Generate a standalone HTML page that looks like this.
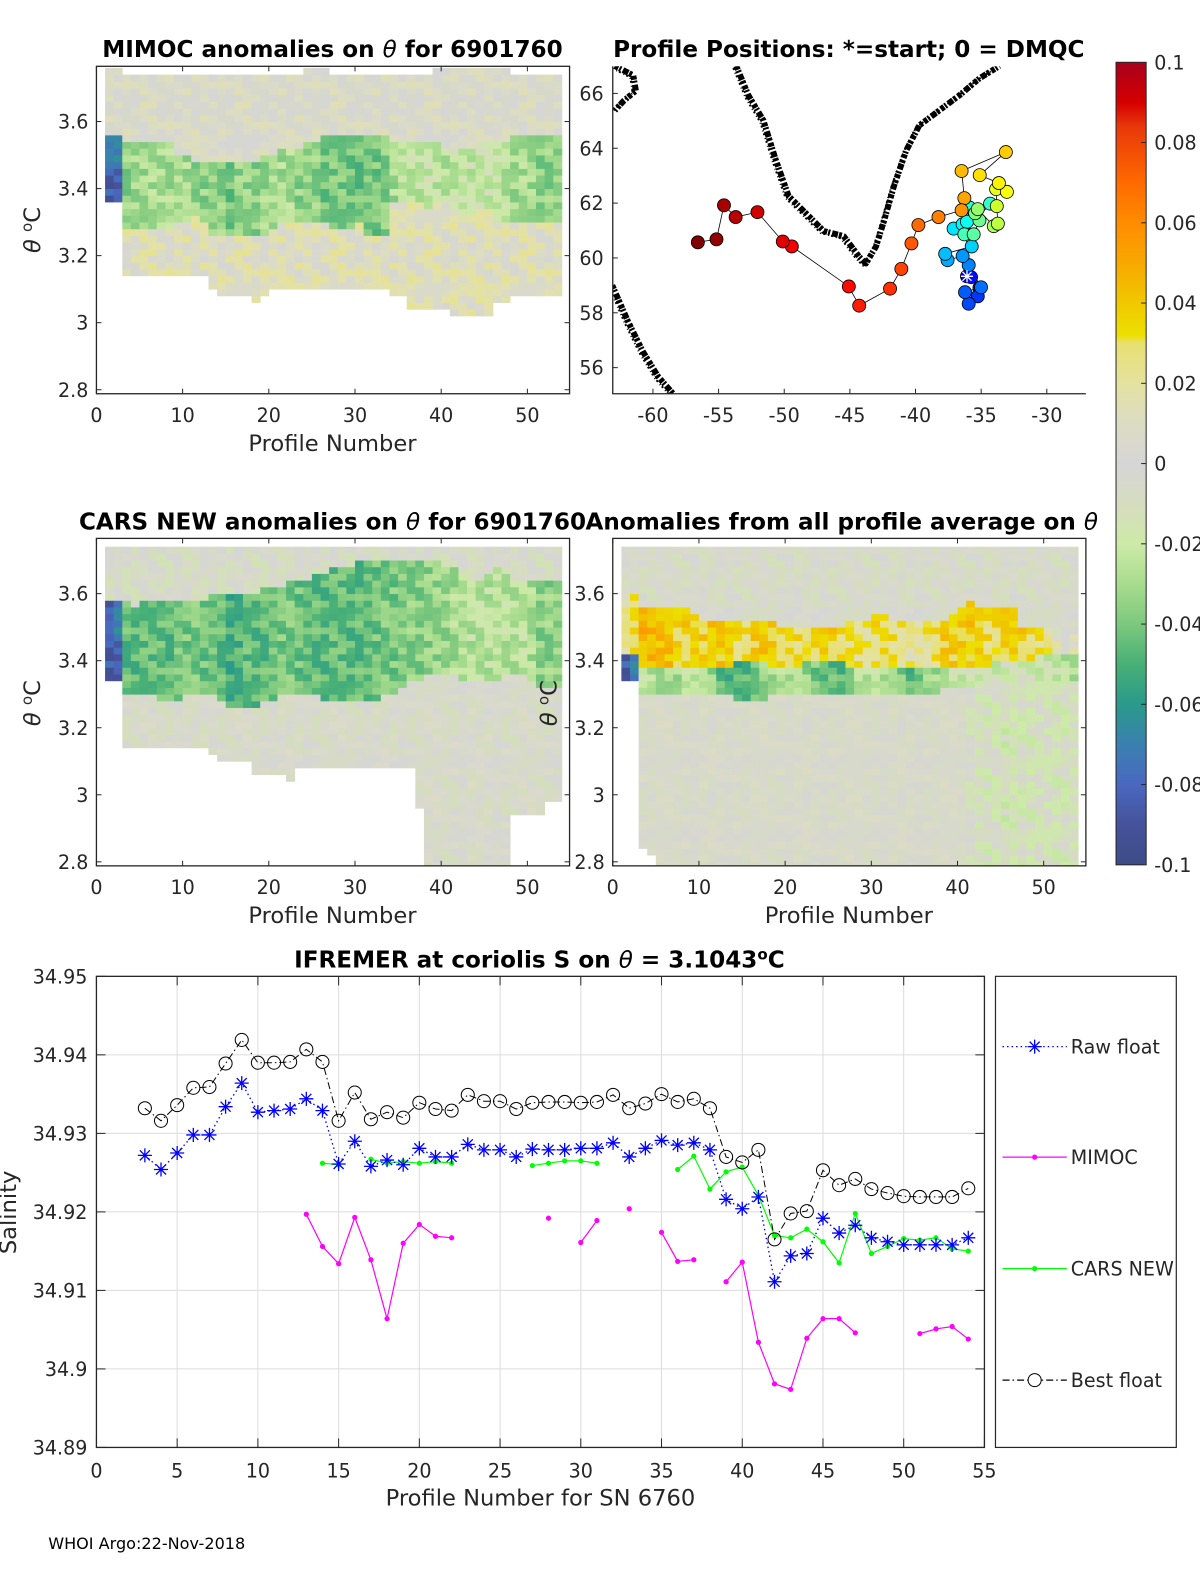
<!DOCTYPE html>
<html><head><meta charset="utf-8"><title>Argo float 6901760 anomaly plots</title>
<style>
html,body{margin:0;padding:0;background:#fff;overflow:hidden;width:1200px;height:1575px;}
svg{display:block;font-family:"DejaVu Sans","Liberation Sans",sans-serif;}
.t{font-size:19px;fill:#262626;}
.ttl{font-size:23px;font-weight:bold;fill:#000;}
.lab{font-size:22.5px;fill:#262626;}
</style></head>
<body>
<svg id="fig" width="1200" height="1575" viewBox="0 0 1194.6 1568" preserveAspectRatio="none" xmlns="http://www.w3.org/2000/svg">
<defs>
<clipPath id="c1"><rect x="96" y="66" width="471" height="326"/></clipPath>
<clipPath id="c3"><rect x="96" y="537" width="471" height="325"/></clipPath>
<clipPath id="c4"><rect x="610" y="537" width="471" height="325"/></clipPath>
<clipPath id="cm"><rect x="610" y="66" width="471" height="326"/></clipPath>
<clipPath id="cb"><rect x="96" y="972" width="884" height="469"/></clipPath>
<linearGradient id="cbar" x1="0" y1="0" x2="0" y2="1">
<stop offset="0" stop-color="#a8001e"/><stop offset="0.05" stop-color="#d40000"/><stop offset="0.08" stop-color="#e8380a"/>
<stop offset="0.15" stop-color="#ff6a00"/><stop offset="0.2" stop-color="#ff8c00"/><stop offset="0.25" stop-color="#f7a800"/>
<stop offset="0.3" stop-color="#f0c800"/><stop offset="0.34" stop-color="#ecdf00"/><stop offset="0.35" stop-color="#e8e070"/>
<stop offset="0.4" stop-color="#e4e2a0"/><stop offset="0.45" stop-color="#dcdcc4"/><stop offset="0.5" stop-color="#d6d6d6"/>
<stop offset="0.55" stop-color="#d6dcc0"/><stop offset="0.6" stop-color="#cdeaa8"/><stop offset="0.65" stop-color="#a8dc8e"/>
<stop offset="0.7" stop-color="#7cc87e"/><stop offset="0.75" stop-color="#48b077"/><stop offset="0.8" stop-color="#2a9a8a"/>
<stop offset="0.85" stop-color="#3a80b0"/><stop offset="0.9" stop-color="#4a68c0"/><stop offset="0.95" stop-color="#46529a"/>
<stop offset="1" stop-color="#3e4c88"/>
</linearGradient>
</defs>

<text class="ttl" x="331" y="57" text-anchor="middle">MIMOC anomalies on <tspan font-style="italic" font-weight="normal">θ</tspan>  for 6901760</text>
<text class="ttl" x="845" y="57" text-anchor="middle">Profile Positions: *=start; 0 = DMQC</text>
<text class="ttl" x="331" y="527" text-anchor="middle">CARS NEW anomalies on <tspan font-style="italic" font-weight="normal">θ</tspan> for 6901760</text>
<text class="ttl" x="838" y="527" text-anchor="middle">Anomalies from all profile average on <tspan font-style="italic" font-weight="normal">θ</tspan></text>
<text class="ttl" x="537" y="963" text-anchor="middle">IFREMER at coriolis S on <tspan font-style="italic" font-weight="normal">θ</tspan> = 3.1043<tspan dy="-8" font-size="15">o</tspan><tspan dy="8">C</tspan></text>

<g id="p1" clip-path="url(#c1)"></g>
<g id="p3" clip-path="url(#c3)"></g>
<g id="p4" clip-path="url(#c4)"></g>
<g id="map" clip-path="url(#cm)"></g>
<g id="axes"></g>

<rect x="1111" y="62" width="30" height="799" fill="url(#cbar)" stroke="#262626" stroke-width="1"/>
<g id="cbt"></g>

<rect x="96" y="972" width="884" height="469" fill="#fff"/>
<g id="grid"></g>
<g id="series" clip-path="url(#cb)"></g>
<rect x="96" y="972" width="884" height="469" fill="none" stroke="#262626" stroke-width="1.3"/>
<g id="baxes"></g>
<text class="lab" transform="translate(16,1207) rotate(-90)" text-anchor="middle">Salinity</text>
<text class="lab" x="538" y="1499" text-anchor="middle">Profile Number for SN 6760</text>

<g>
<rect x="991" y="972" width="180" height="469" fill="#fff" stroke="#262626" stroke-width="1.2"/>
<g id="leg"></g>
</g>
<text x="48" y="1542" font-size="16" fill="#000">WHOI Argo:22-Nov-2018</text>
</svg>

<script>
// ===== bottom chart data =====
const profiles = [];
for (let i = 1; i <= 54; i++) profiles.push(i);
const rawFloat = [null,null,34.9272,34.9254,34.9275,34.9298,34.9298,34.9334,34.9364,34.9327,34.9329,34.9331,34.9344,34.9329,34.9261,34.9290,34.9258,34.9266,34.9260,34.9281,34.9270,34.9270,34.9286,34.9279,34.9279,34.9270,34.9280,34.9279,34.9279,34.9281,34.9281,34.9288,34.9270,34.9281,34.9291,34.9285,34.9288,34.9279,34.9216,34.9204,34.9219,34.9111,34.9144,34.9147,34.9192,34.9173,34.9183,34.9167,34.9162,34.9158,34.9158,34.9158,34.9158,34.9167];
const bestFloat = [null,null,34.9332,34.9316,34.9336,34.9358,34.9359,34.9389,34.9419,34.9390,34.9390,34.9391,34.9407,34.9391,34.9316,34.9352,34.9318,34.9327,34.9320,34.9339,34.9331,34.9329,34.9349,34.9341,34.9341,34.9331,34.9339,34.9340,34.9340,34.9339,34.9340,34.9349,34.9332,34.9338,34.9350,34.9340,34.9344,34.9332,34.9270,34.9263,34.9279,34.9165,34.9198,34.9201,34.9253,34.9234,34.9242,34.9229,34.9224,34.9220,34.9219,34.9219,34.9219,34.9230];
const carsNew = [null,null,null,null,null,null,null,null,null,null,null,null,null,34.9262,34.9260,null,34.9267,34.9262,34.9264,34.9262,34.9264,34.9262,null,null,null,null,34.9259,34.9262,34.9265,34.9265,34.9262,null,null,null,null,34.9254,34.9271,34.9229,34.9251,34.9257,34.9221,34.9170,34.9167,34.9178,34.9162,34.9135,34.9198,34.9147,34.9156,34.9166,34.9164,34.9167,34.9153,34.9150];
const mimoc = [null,null,null,null,null,null,null,null,null,null,null,null,34.9197,34.9156,34.9134,34.9193,34.9139,34.9064,34.9160,34.9184,34.9169,34.9167,null,null,null,null,null,34.9192,null,34.9161,34.9189,null,34.9204,null,34.9174,34.9137,34.9139,null,34.9111,34.9136,34.9034,34.8981,34.8974,34.9039,34.9064,34.9064,34.9046,null,null,null,34.9045,34.9051,34.9054,34.9038];
const xTicksB = [0,5,10,15,20,25,30,35,40,45,50,55];
const yTicksB = [34.89,34.9,34.91,34.92,34.93,34.94,34.95];

// ===== heatmap data (per column k=1..53, column spans profile k..k+1) =====
const mimocColTop = [3.765,3.765,3.745,3.745,3.745,3.745,3.745,3.745,3.745,3.745,3.745,3.745,3.745,3.745,3.745,3.745,3.745,3.745,3.745,3.745,3.745,3.745,3.745,3.765,3.765,3.765,3.745,3.745,3.745,3.745,3.745,3.745,3.745,3.745,3.745,3.745,3.745,3.745,3.765,3.765,3.765,3.765,3.765,3.765,3.765,3.765,3.765,3.745,3.745,3.745,3.745,3.745,3.745];
const mimocColBot = [3.35,3.35,3.147,3.147,3.147,3.147,3.147,3.147,3.147,3.147,3.147,3.147,3.104,3.084,3.084,3.084,3.084,3.064,3.084,3.104,3.104,3.104,3.104,3.104,3.104,3.104,3.104,3.104,3.104,3.104,3.104,3.104,3.104,3.084,3.084,3.044,3.044,3.044,3.044,3.044,3.024,3.024,3.024,3.024,3.024,3.064,3.064,3.084,3.084,3.084,3.084,3.084,3.084];
const mimocBandTop = [3.55,3.55,3.53,3.53,3.53,3.53,3.53,3.53,3.49,3.49,3.48,3.48,3.48,3.48,3.47,3.47,3.48,3.48,3.49,3.5,3.52,3.52,3.52,3.53,3.54,3.55,3.56,3.56,3.56,3.56,3.56,3.55,3.55,3.54,3.53,3.53,3.53,3.53,3.53,3.52,3.52,3.52,3.52,3.53,3.53,3.53,3.54,3.55,3.56,3.56,3.56,3.56,3.56];
const mimocBandBot = [3.35,3.35,3.27,3.27,3.27,3.28,3.28,3.28,3.3,3.3,3.31,3.29,3.25,3.25,3.25,3.25,3.25,3.25,3.26,3.27,3.29,3.29,3.3,3.3,3.29,3.29,3.28,3.27,3.27,3.29,3.25,3.25,3.25,3.35,3.35,3.36,3.36,3.34,3.35,3.35,3.33,3.32,3.32,3.33,3.33,3.3,3.3,3.29,3.29,3.29,3.3,3.3,3.3];
const mimocBandVal = [-0.075,-0.07,-0.035,-0.03,-0.032,-0.03,-0.028,-0.03,-0.03,-0.03,-0.035,-0.035,-0.035,-0.035,-0.04,-0.035,-0.035,-0.035,-0.032,-0.03,-0.03,-0.03,-0.035,-0.035,-0.035,-0.04,-0.04,-0.04,-0.04,-0.042,-0.04,-0.04,-0.038,-0.03,-0.025,-0.022,-0.022,-0.022,-0.025,-0.025,-0.022,-0.022,-0.022,-0.02,-0.02,-0.022,-0.025,-0.03,-0.03,-0.032,-0.035,-0.035,-0.035];
const mimocAbove = 0.004;
const mimocBelow = 0.012;

const carsColTop = mimocColTop.map(() => 3.745);
const carsColBot = [3.34,3.34,3.14,3.14,3.14,3.14,3.14,3.14,3.14,3.14,3.14,3.14,3.12,3.10,3.10,3.10,3.10,3.06,3.06,3.06,3.06,3.04,3.08,3.08,3.08,3.08,3.08,3.08,3.08,3.08,3.08,3.08,3.08,3.08,3.08,3.08,2.96,2.78,2.78,2.78,2.78,2.78,2.78,2.78,2.78,2.78,2.78,2.93,2.93,2.93,2.93,2.98,2.98];
const carsBandTop = [3.58,3.58,3.57,3.56,3.57,3.58,3.58,3.58,3.58,3.57,3.57,3.58,3.59,3.6,3.6,3.6,3.6,3.6,3.61,3.61,3.62,3.63,3.63,3.64,3.65,3.66,3.67,3.68,3.68,3.69,3.69,3.69,3.7,3.7,3.7,3.7,3.69,3.69,3.69,3.68,3.68,3.66,3.64,3.64,3.66,3.68,3.66,3.64,3.64,3.64,3.64,3.64,3.64];
const carsBandBot = [3.34,3.34,3.3,3.3,3.29,3.29,3.28,3.28,3.27,3.29,3.29,3.3,3.29,3.28,3.26,3.26,3.26,3.26,3.27,3.27,3.29,3.3,3.3,3.3,3.29,3.28,3.28,3.27,3.27,3.27,3.27,3.28,3.29,3.3,3.32,3.33,3.34,3.35,3.36,3.36,3.35,3.34,3.34,3.33,3.33,3.34,3.35,3.36,3.36,3.34,3.32,3.31,3.31];
const carsBandVal = [-0.085,-0.07,-0.045,-0.045,-0.045,-0.045,-0.042,-0.045,-0.04,-0.04,-0.04,-0.042,-0.042,-0.045,-0.05,-0.05,-0.045,-0.045,-0.045,-0.042,-0.04,-0.04,-0.042,-0.045,-0.045,-0.045,-0.045,-0.045,-0.045,-0.045,-0.045,-0.042,-0.04,-0.04,-0.038,-0.036,-0.036,-0.036,-0.035,-0.032,-0.03,-0.028,-0.026,-0.026,-0.025,-0.025,-0.025,-0.025,-0.025,-0.03,-0.035,-0.035,-0.035];
const carsAbove = -0.004;
const carsBelow = -0.002;

const avgColTop = mimocColTop.map(() => 3.745);
const avgColBot = [3.33,3.33,2.84,2.815,2.77,2.77,2.77,2.77,2.77,2.77,2.77,2.77,2.77,2.77,2.77,2.77,2.77,2.77,2.77,2.77,2.77,2.77,2.77,2.77,2.77,2.77,2.77,2.77,2.77,2.77,2.77,2.77,2.77,2.77,2.77,2.77,2.77,2.77,2.77,2.77,2.77,2.77,2.77,2.77,2.77,2.77,2.77,2.77,2.77,2.77,2.77,2.77,2.77];
const avgWarmTop = [3.6,3.6,3.56,3.56,3.55,3.55,3.55,3.55,3.53,3.52,3.52,3.52,3.52,3.52,3.52,3.52,3.52,3.52,3.5,3.5,3.5,3.5,3.5,3.5,3.5,3.5,3.52,3.52,3.52,3.54,3.54,3.52,3.52,3.52,3.52,3.52,3.52,3.52,3.54,3.56,3.58,3.56,3.56,3.56,3.56,3.56,3.5,3.5,3.5,3.5,3.48,3.48,3.48];
const avgWarmBot = [3.42,3.42,3.38,3.38,3.38,3.38,3.38,3.38,3.38,3.38,3.38,3.38,3.38,3.4,3.4,3.4,3.4,3.38,3.38,3.38,3.38,3.4,3.4,3.4,3.4,3.4,3.38,3.38,3.38,3.38,3.38,3.38,3.38,3.38,3.38,3.38,3.38,3.38,3.38,3.38,3.38,3.38,3.38,3.4,3.4,3.4,3.4,3.4,3.42,3.42,3.42,3.42,3.42];
const avgWarmVal = [0.02,0.03,0.045,0.045,0.04,0.04,0.035,0.035,0.035,0.035,0.038,0.038,0.035,0.03,0.03,0.035,0.038,0.038,0.035,0.03,0.03,0.032,0.032,0.035,0.035,0.03,0.025,0.025,0.025,0.03,0.03,0.028,0.025,0.02,0.02,0.025,0.03,0.035,0.035,0.038,0.038,0.035,0.03,0.03,0.035,0.035,0.035,0.03,0.025,0.02,0.015,0.01,0.01];
const avgCoolBot = [3.33,3.33,3.3,3.3,3.3,3.3,3.3,3.3,3.3,3.3,3.3,3.3,3.3,3.28,3.28,3.28,3.28,3.3,3.3,3.3,3.3,3.3,3.3,3.3,3.3,3.3,3.3,3.3,3.3,3.3,3.3,3.3,3.3,3.3,3.3,3.3,3.3,3.32,3.32,3.32,3.32,3.32,3.34,3.34,3.34,3.34,3.34,3.34,3.34,3.34,3.34,3.34,3.34];
const avgCoolVal = [-0.085,-0.07,-0.025,-0.025,-0.03,-0.03,-0.03,-0.025,-0.025,-0.03,-0.035,-0.045,-0.05,-0.05,-0.045,-0.04,-0.035,-0.03,-0.03,-0.03,-0.03,-0.035,-0.04,-0.045,-0.045,-0.045,-0.035,-0.025,-0.025,-0.025,-0.03,-0.035,-0.04,-0.045,-0.04,-0.035,-0.03,-0.025,-0.02,-0.02,-0.02,-0.02,-0.02,-0.02,-0.015,-0.015,-0.015,-0.015,-0.02,-0.02,-0.02,-0.025,-0.03];
const avgBelow = [0,0,0,0,0,0,0,0,0,0,0,0,0,0,0,0,0,0,0,0,0,0,0,0,0,0,0,0,0,0,0,0,0,0,0,0,0,0,0,0,-0.006,-0.012,-0.012,-0.012,-0.014,-0.016,-0.012,-0.012,-0.012,-0.012,-0.012,-0.012,-0.012];

// ===== map data (track order, start first) =====
const trackLon = [-36.08,-35.77,-35.13,-35.26,-35.95,-36.23,-35.01,-35.95,-36.41,-37.56,-37.74,-35.72,-37.10,-36.41,-36.08,-35.90,-34.32,-36.28,-35.57,-35.13,-35.46,-35.26,-34.04,-33.73,-33.81,-33.86,-33.04,-33.65,-35.11,-33.12,-36.49,-36.28,-36.49,-38.25,-39.78,-40.31,-41.08,-41.94,-44.29,-45.08,-49.42,-50.11,-52.04,-53.70,-54.59,-55.16,-56.58];
const trackLat = [59.33,59.30,58.91,58.60,58.33,58.75,58.93,59.74,60.07,59.92,60.15,60.42,61.07,61.23,61.32,61.84,61.98,60.86,60.86,61.37,61.63,61.78,61.16,61.25,61.89,62.51,62.41,62.73,63.02,63.86,63.17,62.18,61.74,61.49,61.20,60.53,59.60,58.88,58.26,58.96,60.42,60.60,61.67,61.49,61.92,60.68,60.57];
const lonTicks = [-60,-55,-50,-45,-40,-35,-30];
const latTicks = [56,58,60,62,64,66];
const greenlandLon = [-53.65,-52.73,-51.58,-50.67,-49.67,-48.14,-46.99,-45.46,-44.31,-43.78,-43.01,-42.40,-41.64,-40.72,-39.72,-38.19,-36.66,-35.13,-33.60];
const greenlandLat = [67.0,65.93,65.01,63.62,62.26,61.53,60.98,60.79,60.05,59.80,60.42,61.35,62.63,63.91,64.83,65.38,65.93,66.55,67.0];
const labradorNLon = [-62.9,-61.5,-61.3,-62.2,-62.9];
const labradorNLat = [67.0,66.66,66.1,65.74,65.38];
const labradorSLon = [-63.1,-62.9,-61.9,-60.77,-59.6,-58.47];
const labradorSLat = [59.0,58.78,57.68,56.59,55.67,55.05];

// ===== helpers =====
const NS = 'http://www.w3.org/2000/svg';
function mk(tag, attrs, parent) {
  const e = document.createElementNS(NS, tag);
  for (const k in attrs) e.setAttribute(k, attrs[k]);
  parent.appendChild(e);
  return e;
}
const cmStops = [[-0.1,[62,76,136]],[-0.09,[70,82,154]],[-0.08,[74,104,192]],[-0.07,[58,128,176]],[-0.06,[42,154,138]],[-0.05,[72,176,119]],[-0.04,[124,200,126]],[-0.03,[168,220,142]],[-0.02,[205,234,168]],[-0.01,[214,220,192]],[0,[214,214,214]],[0.01,[220,220,196]],[0.02,[228,226,160]],[0.028,[232,224,112]],[0.03,[236,223,0]],[0.04,[240,200,0]],[0.05,[247,168,0]],[0.06,[255,140,0]],[0.07,[255,106,0]],[0.085,[232,56,10]],[0.09,[212,0,0]],[0.1,[168,0,30]]];
function cmap(v) {
  v = Math.max(-0.1, Math.min(0.1, v));
  for (let i = 0; i < cmStops.length - 1; i++) {
    const a = cmStops[i], b = cmStops[i+1];
    if (v >= a[0] && v <= b[0]) {
      const t = (v - a[0]) / (b[0] - a[0]);
      const c = a[1].map((x, j) => Math.round(x + (b[1][j] - x) * t));
      return 'rgb(' + c.join(',') + ')';
    }
  }
  return '#d6d6d6';
}
const texture = [0, -0.01, 0.008, -0.004, 0.012, -0.008, 0.005, -0.012, 0.003, 0.009, -0.006];

function heat(gid, x0, y36, colTop, colBot, valueAt) {
  const g = document.getElementById(gid);
  const dx = 8.58, dy = 0.02 * 333.75;
  for (let k = 1; k <= 53; k++) {
    const i = k - 1;
    for (let r = 0; r < 60; r++) {
      const th = 2.76 + r * 0.02;
      const mid = th + 0.01;
      if (mid > colTop[i] || mid < colBot[i]) continue;
      const v = valueAt(i, mid) + texture[(r * r * 3 + k * k * 5 + r * k) % 11] * 0.8;
      const rc = mk('rect', {x: (x0 + k * dx).toFixed(2), y: (y36 + (3.6 - th - 0.02) * 333.75).toFixed(2), width: (dx + 0.4).toFixed(2), height: (dy + 0.4).toFixed(2), fill: cmap(v)}, g);
      
      
    }
  }
}
heat('p1', 96, 121, mimocColTop, mimocColBot, (i, th) => {
  if (th <= mimocBandTop[i] && th >= mimocBandBot[i]) return (i < 2 && th < 3.45) ? -0.085 : mimocBandVal[i];
  return th > mimocBandTop[i] ? mimocAbove : mimocBelow;
});
heat('p3', 96, 591, carsColTop, carsColBot, (i, th) => {
  if (th <= carsBandTop[i] && th >= carsBandBot[i]) return (i < 2 && th < 3.45) ? -0.085 : carsBandVal[i];
  return th > carsBandTop[i] ? carsAbove : carsBelow;
});
heat('p4', 610, 591, avgColTop, avgColBot, (i, th) => {
  if (th <= avgWarmTop[i] && th >= avgWarmBot[i]) return avgWarmVal[i];
  if (th < avgWarmBot[i] && th >= avgCoolBot[i]) return avgCoolVal[i];
  return th > avgWarmTop[i] ? -0.003 : avgBelow[i];
});

// ===== axes for heatmaps =====
const axes = document.getElementById('axes');
function thetaAxes(x0, yTop, y36, ylabX, ylabY, name) {
  const box = mk('rect', {x: x0, y: yTop, width: 471, height: 326, fill: 'none', stroke: '#262626', 'stroke-width': 1.3}, axes);
  
  
  [0,10,20,30,40,50].forEach(p => {
    const x = x0 + p * 8.58;
    mk('line', {x1: x, x2: x, y1: yTop + 326, y2: yTop + 321, stroke: '#262626'}, axes);
    mk('line', {x1: x, x2: x, y1: yTop, y2: yTop + 5, stroke: '#262626'}, axes);
    const t = mk('text', {x: x, y: yTop + 354, class: 't', 'text-anchor': 'middle'}, axes);
    t.textContent = p;
    
    
  });
  [2.8,3,3.2,3.4,3.6].forEach(v => {
    const y = y36 + (3.6 - v) * 333.75;
    mk('line', {x1: x0, x2: x0 + 5, y1: y, y2: y, stroke: '#262626'}, axes);
    mk('line', {x1: x0 + 471, x2: x0 + 466, y1: y, y2: y, stroke: '#262626'}, axes);
    const t = mk('text', {x: x0 - 8, y: y + 7, class: 't', 'text-anchor': 'end'}, axes);
    t.textContent = String(v);
    
    
  });
  const xl = mk('text', {x: x0 + 235, y: yTop + 383, class: 'lab', 'text-anchor': 'middle'}, axes);
  xl.textContent = 'Profile Number';
  
  
  const yl = mk('text', {transform: 'translate(' + ylabX + ',' + ylabY + ') rotate(-90)', class: 'lab', 'text-anchor': 'middle'}, axes);
  yl.innerHTML = '<tspan font-style="italic">θ</tspan> <tspan dy="-8" font-size="15">o</tspan><tspan dy="8">C</tspan>';
  
  
}
thetaAxes(96, 66, 121, 40, 229, 'mimoc');
thetaAxes(96, 536, 591, 40, 700, 'cars');
thetaAxes(610, 536, 591, 554, 700, 'average');

// ===== map =====
const mapG = document.getElementById('map');
const mx = lon => 650 + (lon + 60) * 13.07;
const my = lat => 93 + (66 - lat) * 27.3;
function coast(lons, lats, nm) {
  const pts = lons.map((l, i) => mx(l).toFixed(1) + ',' + my(lats[i]).toFixed(1)).join(' ');
  const p = mk('polyline', {points: pts, fill: 'none', stroke: '#000', 'stroke-width': 6, 'stroke-dasharray': '4 1 2 2 6 1 3 2', 'stroke-linejoin': 'round'}, mapG);
  
  
  mk('polyline', {points: pts, fill: 'none', stroke: '#000', 'stroke-width': 2, transform: 'translate(-3,2)', 'stroke-dasharray': '2 3 1 2'}, mapG);
}
coast(greenlandLon, greenlandLat, 'greenland-coastline');
coast(labradorNLon, labradorNLat, 'baffin-coastline');
coast(labradorSLon, labradorSLat, 'labrador-coastline');
const trackPts = trackLon.map((l, i) => mx(l).toFixed(1) + ',' + my(trackLat[i]).toFixed(1)).join(' ');
const trk = mk('polyline', {points: trackPts, fill: 'none', stroke: '#000', 'stroke-width': 0.8}, mapG);


function jet(t) {
  const r = Math.max(0, Math.min(1, 1.5 - Math.abs(4 * t - 3)));
  const g = Math.max(0, Math.min(1, 1.5 - Math.abs(4 * t - 2)));
  const b = Math.max(0, Math.min(1, 1.5 - Math.abs(4 * t - 1)));
  return 'rgb(' + [r, g, b].map(v => Math.round(v * 255)).join(',') + ')';
}
trackLon.forEach((l, i) => {
  const c = mk('circle', {cx: mx(l), cy: my(trackLat[i]), r: 6.5, fill: jet(0.12 + 0.88 * i / (trackLon.length - 1)), stroke: '#000', 'stroke-width': 0.8}, mapG);
  
  
});
const sx = mx(trackLon[0]), sy = my(trackLat[0]);
const star = mk('path', {d: `M${sx-6},${sy}H${sx+6}M${sx},${sy-6}V${sy+6}M${sx-4.5},${sy-4.5}L${sx+4.5},${sy+4.5}M${sx-4.5},${sy+4.5}L${sx+4.5},${sy-4.5}`, stroke: '#fff', 'stroke-width': 1.3}, mapG);


const mbox = mk('path', {d: 'M610,66V392H1081', fill: 'none', stroke: '#262626', 'stroke-width': 1.3}, axes);


lonTicks.forEach(v => {
  const x = mx(v);
  mk('line', {x1: x, x2: x, y1: 392, y2: 387, stroke: '#262626'}, axes);
  const t = mk('text', {x: x, y: 420, class: 't', 'text-anchor': 'middle'}, axes);
  t.textContent = String(v);
  
  
});
latTicks.forEach(v => {
  const y = my(v);
  mk('line', {x1: 610, x2: 615, y1: y, y2: y, stroke: '#262626'}, axes);
  const t = mk('text', {x: 601, y: y + 7, class: 't', 'text-anchor': 'end'}, axes);
  t.textContent = String(v);
  
  
});

// ===== colorbar ticks =====
const cbt = document.getElementById('cbt');
const cbVals = [0.1,0.08,0.06,0.04,0.02,0,-0.02,-0.04,-0.06,-0.08,-0.1];
cbVals.forEach((v, i) => {
  const y = 62 + i * 79.9;
  if (i > 0 && i < 10) mk('line', {x1: 1141, x2: 1136, y1: y, y2: y, stroke: '#262626'}, cbt);
  const t = mk('text', {x: 1149, y: y + 7, class: 't'}, cbt);
  t.textContent = String(v);
  
  
});

// ===== bottom chart =====
const bx = p => 96 + p * (884 / 55);
const by = v => 972 + (34.95 - v) / 0.06 * 469;
const grid = document.getElementById('grid'), baxes = document.getElementById('baxes');
xTicksB.forEach(p => {
  const x = bx(p);
  if (p > 0 && p < 55) mk('line', {x1: x, x2: x, y1: 972, y2: 1441, stroke: '#dcdcdc'}, grid);
  mk('line', {x1: x, x2: x, y1: 1441, y2: 1432, stroke: '#262626'}, baxes);
  mk('line', {x1: x, x2: x, y1: 972, y2: 981, stroke: '#262626'}, baxes);
  const t = mk('text', {x: x, y: 1471, class: 't', 'text-anchor': 'middle'}, baxes);
  t.textContent = p;
  
  
});
yTicksB.forEach(v => {
  const y = by(v);
  if (v > 34.891 && v < 34.949) mk('line', {x1: 96, x2: 980, y1: y, y2: y, stroke: '#dcdcdc'}, grid);
  mk('line', {x1: 96, x2: 105, y1: y, y2: y, stroke: '#262626'}, baxes);
  mk('line', {x1: 980, x2: 971, y1: y, y2: y, stroke: '#262626'}, baxes);
  const t = mk('text', {x: 87, y: y + 7, class: 't', 'text-anchor': 'end', 'font-size': 20}, baxes);
  t.textContent = (v === 34.9) ? '34.9' : v.toFixed(2);
  
  
});

const ser = document.getElementById('series');
function segments(vals) {
  const segs = []; let cur = [];
  vals.forEach((v, i) => {
    if (v === null) { if (cur.length) segs.push(cur); cur = []; }
    else cur.push([bx(profiles[i]), by(v)]);
  });
  if (cur.length) segs.push(cur);
  return segs;
}
function drawLine(vals, color, dash, width, nm) {
  segments(vals).forEach(s => {
    if (s.length < 2) return;
    const p = mk('polyline', {points: s.map(q => q[0].toFixed(1) + ',' + q[1].toFixed(1)).join(' '), fill: 'none', stroke: color, 'stroke-width': width, 'stroke-dasharray': dash}, ser);
    
    
  });
}
function asterisk(x, y, color, parent) {
  return mk('path', {d: `M${x-7},${y}H${x+7}M${x},${y-7}V${y+7}M${x-5},${y-5}L${x+5},${y+5}M${x-5},${y+5}L${x+5},${y-5}`, stroke: color, 'stroke-width': 1.3, fill: 'none'}, parent);
}
drawLine(mimoc, '#ff00ff', 'none', 1.2, 'mimoc');
drawLine(carsNew, '#00ff00', 'none', 1.2, 'cars-new');
drawLine(rawFloat, '#0000ff', '1.5 3', 1.3, 'raw-float');
drawLine(bestFloat, '#000', '7 3 1.5 3', 1, 'best-float');
mimoc.forEach((v, i) => {
  if (v === null) return;
  const c = mk('circle', {cx: bx(profiles[i]), cy: by(v), r: 2.6, fill: '#ff00ff'}, ser);
  
  
});
carsNew.forEach((v, i) => {
  if (v === null) return;
  const c = mk('circle', {cx: bx(profiles[i]), cy: by(v), r: 2.6, fill: '#00ff00'}, ser);
  
  
});
rawFloat.forEach((v, i) => {
  if (v === null) return;
  const a = asterisk(bx(profiles[i]), by(v), '#0000ff', ser);
  
  
});
bestFloat.forEach((v, i) => {
  if (v === null) return;
  const c = mk('circle', {cx: bx(profiles[i]), cy: by(v), r: 6.5, fill: 'none', stroke: '#000', 'stroke-width': 1}, ser);
  
  
});

// legend
const leg = document.getElementById('leg');
const legItems = [['Raw float', '#0000ff', '1.5 3', 1042, 'ast'], ['MIMOC', '#ff00ff', 'none', 1152, 'dot'], ['CARS NEW', '#00ff00', 'none', 1263, 'dot'], ['Best float', '#000', '7 3 1.5 3', 1374, 'circ']];
legItems.forEach(it => {
  const y = it[3];
  mk('line', {x1: 998, x2: 1062, y1: y, y2: y, stroke: it[1], 'stroke-width': 1.2, 'stroke-dasharray': it[2]}, leg);
  if (it[4] === 'ast') asterisk(1030, y, it[1], leg);
  if (it[4] === 'dot') mk('circle', {cx: 1030, cy: y, r: 2.6, fill: it[1]}, leg);
  if (it[4] === 'circ') mk('circle', {cx: 1030, cy: y, r: 6.5, fill: '#fff', stroke: '#000'}, leg);
  const t = mk('text', {x: 1066, y: y + 7, class: 't'}, leg);
  t.textContent = it[0];
  
  
});
</script>
</body></html>
